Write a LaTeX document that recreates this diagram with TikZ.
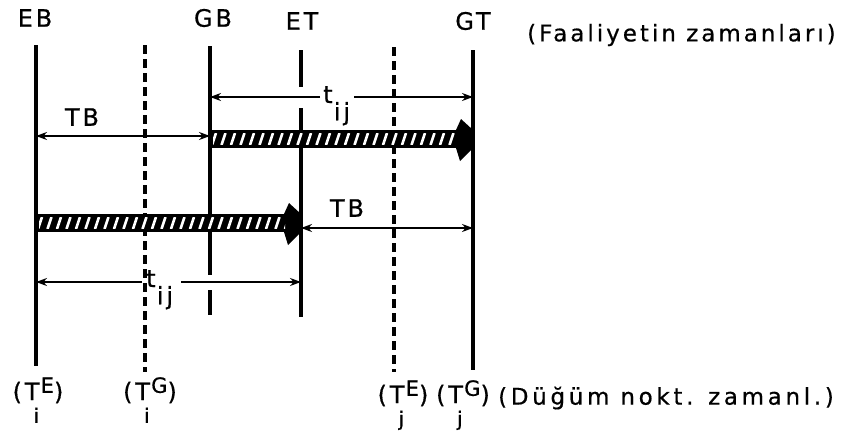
\documentclass[tikz,border=0pt]{standalone}
\usepackage{fontspec}
\setmainfont{DejaVu Sans}
\newfontfamily\lsfont[LetterSpace=12,FakeBold=0.6]{DejaVu Sans}
\newfontfamily\wsfont[LetterSpace=13,FakeBold=0.6]{DejaVu Sans}
\newfontfamily\wwsfont[LetterSpace=16,FakeBold=0.6]{DejaVu Sans}
\usetikzlibrary{arrows.meta}
\newcommand\nodelab[2]{(T\makebox[0pt][r]{\raisebox{-0.95em}{\fontsize{20}{20}\selectfont #1\hspace{0.02em}}}\hspace{0.05em}\raisebox{0.3em}{\fontsize{21}{21}\selectfont #2})}
\newcommand\tijlab{t\raisebox{-0.72em}{\hspace{0.05em}i\hspace{0.12em}j}}
\newcommand\hatchbar[3]{%
  \fill (#1,#3-9) rectangle (#2-14,#3+9);
  \fill (#2-12,#3-20) -- (#2,#3-9) -- (#2,#3+9) -- (#2-13,#3+22) -- (#2-17,#3+9) -- (#2-17,#3-9) -- cycle;
  \begin{scope}
    \clip (#1+3,#3-5.5) rectangle (#2-16,#3+5.5);
    \foreach \k in {0,...,40}{\draw[white,line width=2.6pt] ({#1+2+9.5*\k},#3+6) -- ({#1+6+9.5*\k},#3-6);}
  \end{scope}}
\begin{document}
\begin{tikzpicture}[x=1pt,y=-1pt,
  vline/.style={line width=3.4pt},
  dline/.style={line width=3.4pt,dash pattern=on 9pt off 5pt},
  dim/.style={line width=1.8pt,-{Stealth[length=11pt,width=8pt]}},
  dimboth/.style={line width=1.8pt,{Stealth[length=11pt,width=8pt]}-{Stealth[length=11pt,width=8pt]}},
  txt/.style={inner sep=0pt,font=\fontsize{24}{26}\selectfont\lsfont},
  note/.style={inner sep=0pt,font=\fontsize{23}{26}\selectfont\wsfont},
  note2/.style={inner sep=0pt,font=\fontsize{23}{26}\selectfont\wwsfont},
]
\useasboundingbox (0,0) rectangle (864,442);
% line ends
\coordinate (EBt) at (36,45);  \coordinate (EBb) at (36,366);
\coordinate (D1t) at (145,45); \coordinate (D1b) at (145,372);
\coordinate (GBt) at (210,46); \coordinate (GBb) at (210,315);
\coordinate (ETt) at (301,50); \coordinate (ETb) at (301,317);
\coordinate (D2t) at (394,47); \coordinate (D2b) at (394,372);
\coordinate (GTt) at (473,50); \coordinate (GTb) at (473,370);
\coordinate (GBg1) at (210,275); \coordinate (GBg2) at (210,290);
\coordinate (ETg1) at (301,87);  \coordinate (ETg2) at (301,108);
% verticals
\draw[vline] (EBt) -- (EBb);
\draw[dline] (D1t) -- (D1b);
\draw[vline] (GBt) -- (GBg1) (GBg2) -- (GBb);
\draw[vline] (ETt) -- (ETg1) (ETg2) -- (ETb);
\draw[dline] (D2t) -- (D2b);
\draw[vline] (GTt) -- (GTb);
% hatched bars
\hatchbar{210}{473}{139}
\hatchbar{36}{301}{223}
% top labels
\node[txt] (lEB) at (35,18) {EB};
\node[txt] (lGB) at (213,18) {GB};
\node[txt] (lET) at (302,21) {ET};
\node[txt] (lGT) at (473,21) {GT};
\node[note,anchor=west] (lF) at (527,35) {(Faaliyetin zamanları)};
% dimension: top t_ij
\coordinate (a1L) at (210,97); \coordinate (a1R) at (473,97);
\node[txt,anchor=base west] (t1) at (323,103) {\tijlab};
\draw[dim] ([xshift=-3pt]t1.west |- a1L) -- (a1L);
\draw[dim] ([xshift=4pt]t1.east |- a1R) -- (a1R);
% dimension: top TB
\coordinate (a2L) at (36,136); \coordinate (a2R) at (210,136);
\draw[dimboth] (a2L) -- (a2R);
\node[txt] (tb1) at (82,117) {TB};
% dimension: bottom TB
\coordinate (a3L) at (301,228); \coordinate (a3R) at (473,228);
\draw[dimboth] (a3L) -- (a3R);
\node[txt] (tb2) at (347,208) {TB};
% dimension: bottom t_ij
\coordinate (a4L) at (36,282); \coordinate (a4R) at (301,282);
\node[txt,anchor=base west] (t2) at (146,287) {\tijlab};
\draw[dim] ([xshift=-4pt]t2.west |- a4L) -- (a4L);
\draw[dim] ([xshift=8pt]t2.east |- a4R) -- (a4R);
% bottom labels
\node[txt,anchor=base] (bTiE) at (38,400) {\nodelab{i}{E}};
\node[txt,anchor=base] (bTiG) at (150,400) {\nodelab{i}{G}};
\node[txt,anchor=base] (bTjE) at (403,403) {\nodelab{j}{E}};
\node[txt,anchor=base] (bTjG) at (463,403) {\nodelab{j}{G}};
\node[note2,anchor=west] (lD) at (498,398) {(Düğüm nokt. zamanl.)};
\end{tikzpicture}
\end{document}
